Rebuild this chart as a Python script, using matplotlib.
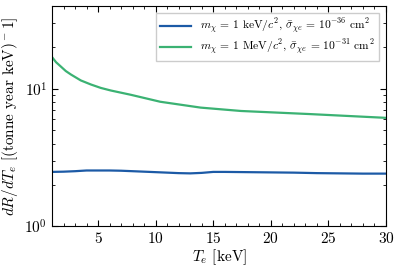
import matplotlib
matplotlib.use("Agg")
import matplotlib.pyplot as plt
import numpy as np

plt.rcParams['font.family'] = 'serif'
plt.rcParams['font.serif'] = ['cmr10', 'DejaVu Serif']
plt.rcParams['mathtext.fontset'] = 'cm'
plt.rcParams['axes.formatter.use_mathtext'] = True

# values
Te_kev = [1, 2, 3, 4, 5, 6, 7, 8, 9, 10, 11, 12, 13, 14, 15, 16, 18, 20, 22,
          24, 26, 28, 30]
rate_kev = [2.49, 2.50, 2.52, 2.55, 2.55, 2.55, 2.54, 2.52, 2.50, 2.48, 2.46,
            2.44, 2.43, 2.45, 2.49, 2.49, 2.48, 2.47, 2.46, 2.44, 2.43, 2.42,
            2.42]
Te_mev = [1, 1.35, 1.77, 2.2, 2.64, 3.5, 4.37, 5.23, 6.1, 7.83, 10.4, 13.9,
          17.4, 23.4, 30]
rate_mev = [17.0, 15.6, 14.5, 13.45, 12.7, 11.5, 10.75, 10.15, 9.72, 9.05,
            8.05, 7.3, 6.9, 6.55, 6.15]

fig, ax = plt.subplots(figsize=(4, 2.68), dpi=100)
ax.plot(Te_kev, rate_kev, color='#1c5aa6', lw=1.6,
        label=r'$m_\chi$ = 1 keV/$c^2$, $\bar{\sigma}_{\chi e}$ = $10^{-36}$ cm$^2$')
ax.plot(Te_mev, rate_mev, color='#3bb273', lw=1.6,
        label=r'$m_\chi$ = 1 MeV/$c^2$, $\bar{\sigma}_{\chi e}$ = $10^{-31}$ cm$^2$')

ax.set_yscale('log')
ax.set_xlim(1, 30)
ax.set_ylim(1, 40)
ax.set_xticks([5, 10, 15, 20, 25, 30])
ax.xaxis.set_minor_locator(matplotlib.ticker.MultipleLocator(1))
ax.tick_params(which='both', direction='in', top=True, right=True, labelsize=11)
ax.tick_params(which='major', length=4)
ax.tick_params(which='minor', length=2)
ax.set_xlabel(r'$T_e$ [keV]', fontsize=11, labelpad=1)
ax.set_ylabel(r'$dR/dT_e$ [(tonne year keV)$^-1$]', fontsize=11, labelpad=3)

leg = ax.legend(loc='upper right', fontsize=8.3, fancybox=False, framealpha=1,
                edgecolor='#cccccc', handlelength=2.7, labelspacing=0.15,
                borderpad=0.35, borderaxespad=0.6)

fig.subplots_adjust(left=0.13, right=0.965, top=0.978, bottom=0.155)
fig.savefig('out.png', dpi=100)
